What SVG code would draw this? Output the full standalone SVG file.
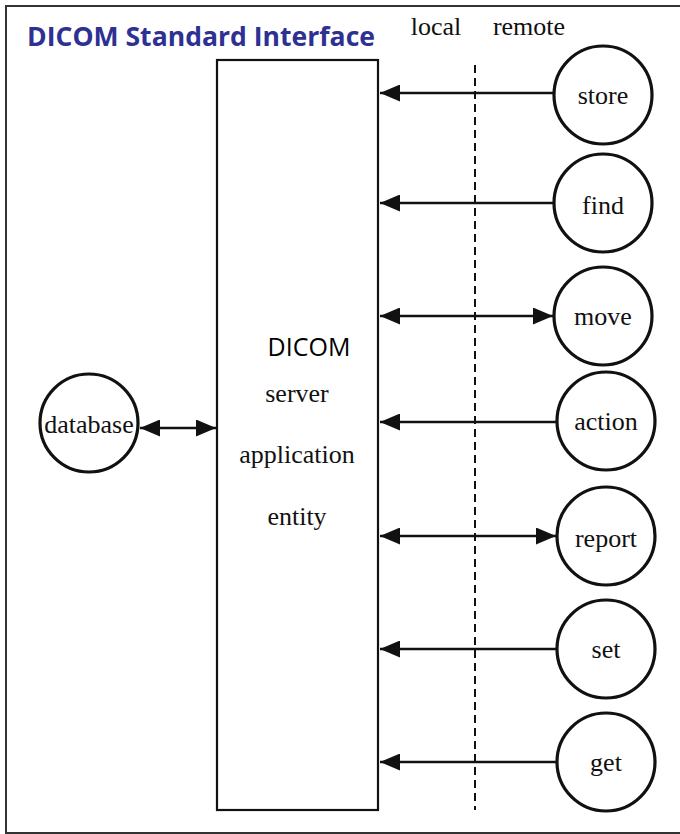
<svg xmlns="http://www.w3.org/2000/svg" width="680" height="834" viewBox="0 0 680 834">
<defs>
<style>
.frame{fill:none;stroke:#333;stroke-width:2}
.box{fill:#fff;stroke:#111;stroke-width:2.2}
.node{fill:#fff;stroke:#111;stroke-width:3.2}
.lbl{font-family:"Liberation Serif","Times New Roman",serif;font-size:26px;fill:#111;text-anchor:middle}
.conn{stroke:#111;stroke-width:2.6;fill:none}
.dash{stroke:#111;stroke-width:2;stroke-dasharray:8,5;fill:none}
</style>
<marker id="ah" viewBox="0 0 20 17" refX="20" refY="8.5" markerWidth="20" markerHeight="17" markerUnits="userSpaceOnUse" orient="auto-start-reverse">
<path d="M0,0 L20,8.5 L0,17 Z" fill="#111"/>
</marker>
</defs>
<rect x="0" y="0" width="680" height="834" fill="#fff"/>
<rect class="frame" x="6" y="6" width="680" height="827"/>
<text x="27" y="46" font-family="'Open Sans','Liberation Sans',sans-serif" font-weight="bold" font-size="27" fill="#2e3192" textLength="348" lengthAdjust="spacingAndGlyphs">DICOM Standard Interface</text>
<text class="lbl" x="436" y="35">local</text>
<text class="lbl" x="529" y="35">remote</text>
<line class="dash" x1="475" y1="65" x2="475" y2="810"/>
<g id="server">
<rect class="box" x="217" y="60" width="161" height="750"/>
<text x="309" y="356" font-family="'Open Sans','Liberation Sans',sans-serif" font-size="25" fill="#000" text-anchor="middle">DICOM</text>
<text class="lbl" x="297" y="402">server</text>
<text class="lbl" x="297" y="463">application</text>
<text class="lbl" x="297" y="525">entity</text>
</g>
<g id="database">
<circle class="node" cx="89" cy="423" r="49"/>
<text class="lbl" x="89" y="433">database</text>
</g>
<g id="store"><circle class="node" cx="603" cy="95" r="49"/><text class="lbl" x="603" y="104">store</text></g>
<g id="find"><circle class="node" cx="603" cy="203" r="49"/><text class="lbl" x="603" y="214">find</text></g>
<g id="move"><circle class="node" cx="603" cy="316" r="49"/><text class="lbl" x="603" y="325">move</text></g>
<g id="action"><circle class="node" cx="606" cy="421" r="49"/><text class="lbl" x="606" y="430">action</text></g>
<g id="report"><circle class="node" cx="606" cy="536" r="49"/><text class="lbl" x="606" y="547">report</text></g>
<g id="set"><circle class="node" cx="606" cy="649" r="49"/><text class="lbl" x="606" y="658">set</text></g>
<g id="get"><circle class="node" cx="606" cy="762" r="49"/><text class="lbl" x="606" y="771">get</text></g>
<g id="connectors">
<line class="conn" x1="140" y1="428" x2="216" y2="428" marker-start="url(#ah)" marker-end="url(#ah)"/>
<line class="conn" x1="554" y1="93" x2="380" y2="93" marker-end="url(#ah)"/>
<line class="conn" x1="554" y1="203" x2="380" y2="203" marker-end="url(#ah)"/>
<line class="conn" x1="380" y1="316" x2="553" y2="316" marker-start="url(#ah)" marker-end="url(#ah)"/>
<line class="conn" x1="557" y1="422" x2="380" y2="422" marker-end="url(#ah)"/>
<line class="conn" x1="380" y1="536" x2="556" y2="536" marker-start="url(#ah)" marker-end="url(#ah)"/>
<line class="conn" x1="557" y1="649" x2="380" y2="649" marker-end="url(#ah)"/>
<line class="conn" x1="557" y1="762" x2="380" y2="762" marker-end="url(#ah)"/>
</g>
</svg>
